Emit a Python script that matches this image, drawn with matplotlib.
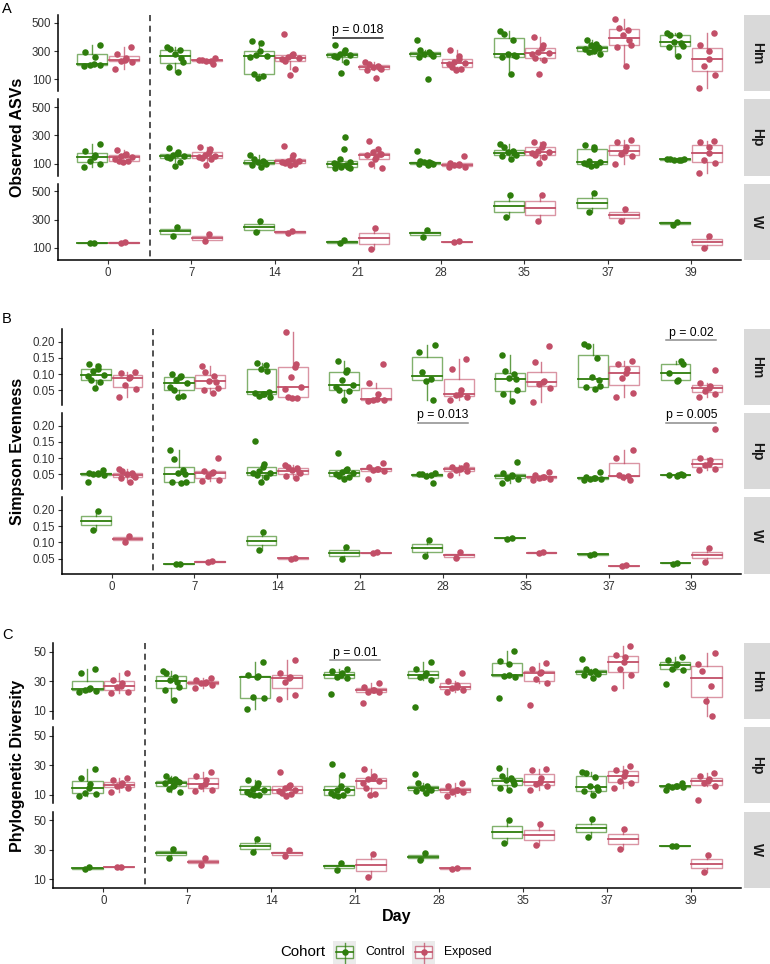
import numpy as np
import matplotlib.pyplot as plt
from matplotlib.patches import Rectangle

plt.rcParams['font.family'] = ['Liberation Sans', 'DejaVu Sans']

# x categories and facets
days = ['0', '7', '14', '21', '28', '35', '37', '39']
sites = ['Hm', 'Hp', 'W']

# A - Observed ASVs
asv_hm_ctrl = [[195, 200, 205, 210, 260, 294, 341],
               [152, 188, 223, 254, 282, 306, 318, 330],
               [110, 122, 140, 258, 265, 272, 300, 360, 375],
               [145, 223, 255, 265, 275, 282, 290, 311, 346],
               [100, 259, 265, 278, 282, 294, 306, 377],
               [140, 259, 262, 270, 282, 380, 424, 441],
               [282, 294, 300, 306, 318, 322, 330, 341, 353, 377],
               [263, 330, 335, 358, 365, 412, 417, 431]]
asv_hm_exp = [[176, 223, 230, 240, 254, 282, 330],
              [207, 228, 232, 235, 240, 254],
              [128, 176, 228, 245, 250, 260, 270, 282, 420],
              [112, 164, 172, 182, 188, 196, 207, 223],
              [164, 176, 188, 211, 216, 223, 247, 263, 306],
              [135, 235, 248, 282, 289, 294, 320, 341, 401],
              [195, 330, 345, 380, 412, 450, 467, 531],
              [41, 128, 192, 247, 301, 341, 431]]
asv_hp_ctrl = [[74, 100, 121, 145, 157, 192, 240],
               [79, 109, 140, 148, 152, 160, 164, 180, 209],
               [74, 88, 98, 105, 109, 118, 133, 157],
               [65, 70, 72, 78, 90, 98, 102, 109, 133, 204, 287],
               [86, 95, 100, 105, 109, 112, 121, 192],
               [133, 150, 162, 172, 180, 192, 216, 240],
               [80, 86, 95, 105, 112, 121, 200, 216, 228],
               [122, 125, 128, 130, 132, 135]]
asv_hp_exp = [[109, 115, 120, 135, 145, 150, 157, 169, 197],
              [86, 135, 140, 145, 150, 157, 180, 204, 216],
              [86, 95, 102, 110, 117, 121, 133, 157, 223],
              [69, 93, 130, 145, 157, 165, 169, 180, 204, 263],
              [72, 78, 86, 90, 100, 102, 150],
              [105, 145, 160, 173, 180, 192, 216, 240, 256],
              [98, 155, 165, 188, 216, 250, 268],
              [34, 102, 125, 173, 215, 252, 259]]
asv_w_ctrl = [[132, 137], [183, 249], [209, 292], [131, 154],
              [180, 225], [315, 474], [351, 488], [265, 285]]
asv_w_exp = [[135, 140], [145, 197], [204, 221], [91, 244],
             [140, 145], [287, 476], [292, 375], [102, 185]]

# B - Simpson evenness
even_hm_ctrl = [[0.058, 0.075, 0.081, 0.093, 0.096, 0.110, 0.117, 0.124, 0.130],
                [0.029, 0.033, 0.052, 0.060, 0.073, 0.081, 0.091, 0.095, 0.099],
                [0.029, 0.033, 0.038, 0.040, 0.043, 0.045, 0.110, 0.117, 0.127, 0.134],
                [0.019, 0.048, 0.052, 0.060, 0.068, 0.081, 0.106, 0.114, 0.140],
                [0.019, 0.080, 0.085, 0.106, 0.168, 0.191],
                [0.017, 0.038, 0.050, 0.084, 0.089, 0.100, 0.110, 0.160],
                [0.055, 0.060, 0.062, 0.081, 0.091, 0.150, 0.186, 0.192],
                [0.078, 0.081, 0.105, 0.132, 0.140]]
even_hm_exp = [[0.029, 0.055, 0.065, 0.088, 0.091, 0.103, 0.106],
               [0.042, 0.050, 0.058, 0.075, 0.080, 0.093, 0.106, 0.124],
               [0.025, 0.027, 0.029, 0.055, 0.060, 0.091, 0.122, 0.132, 0.230],
               [0.016, 0.019, 0.020, 0.024, 0.040, 0.073, 0.130],
               [0.019, 0.029, 0.035, 0.040, 0.050, 0.117, 0.148],
               [0.014, 0.057, 0.071, 0.076, 0.078, 0.137, 0.186],
               [0.029, 0.042, 0.089, 0.104, 0.117, 0.132, 0.139],
               [0.029, 0.040, 0.048, 0.058, 0.062, 0.073, 0.112]]
even_hp_ctrl = [[0.027, 0.047, 0.050, 0.051, 0.053, 0.055, 0.063],
                [0.022, 0.025, 0.027, 0.050, 0.055, 0.063, 0.097, 0.125],
                [0.027, 0.043, 0.048, 0.053, 0.055, 0.060, 0.074, 0.081, 0.153],
                [0.036, 0.043, 0.045, 0.051, 0.053, 0.058, 0.062, 0.068, 0.117],
                [0.024, 0.045, 0.048, 0.050, 0.051, 0.053],
                [0.022, 0.036, 0.040, 0.045, 0.048, 0.055, 0.089],
                [0.033, 0.035, 0.037, 0.038, 0.040, 0.043, 0.058],
                [0.045, 0.047, 0.048, 0.049, 0.050]]
even_hp_exp = [[0.027, 0.040, 0.043, 0.048, 0.050, 0.053, 0.061, 0.068],
               [0.030, 0.033, 0.045, 0.055, 0.058, 0.061, 0.099],
               [0.038, 0.045, 0.053, 0.058, 0.063, 0.070, 0.074, 0.079],
               [0.036, 0.060, 0.063, 0.065, 0.068, 0.072, 0.086],
               [0.048, 0.060, 0.063, 0.066, 0.070, 0.074, 0.079],
               [0.033, 0.036, 0.040, 0.041, 0.043, 0.048, 0.058],
               [0.033, 0.043, 0.045, 0.048, 0.099, 0.125],
               [0.063, 0.068, 0.078, 0.082, 0.095, 0.099, 0.190]]
even_w_ctrl = [[0.138, 0.197], [0.033, 0.035], [0.077, 0.133], [0.048, 0.085],
               [0.058, 0.107], [0.112, 0.114], [0.062, 0.064], [0.035, 0.036]]
even_w_exp = [[0.102, 0.121], [0.040, 0.042], [0.050, 0.052], [0.067, 0.069],
              [0.051, 0.070], [0.066, 0.071], [0.027, 0.029], [0.041, 0.082]]

# C - Phylogenetic diversity
pd_hm_ctrl = [[22.8, 23.5, 23.9, 24.5, 25.1, 35.2, 38.5],
              [17.2, 23.9, 26.2, 29.5, 30.5, 32.9, 35.6, 37.0],
              [10.9, 18.3, 19.0, 33.0, 33.4, 34.0, 43.0],
              [21.2, 31.8, 32.5, 34.0, 35.2, 37.0, 38.5],
              [12.7, 31.1, 32.9, 34.0, 35.2, 37.9, 43.0],
              [18.8, 33.0, 33.4, 34.0, 41.5, 43.7, 50.2],
              [31.8, 34.0, 35.0, 35.6, 36.3, 37.0, 37.9, 45.3],
              [27.8, 37.4, 38.5, 40.8, 41.9, 44.6, 46.0]]
pd_hm_exp = [[22.1, 22.5, 26.2, 27.0, 29.0, 30.7, 35.6],
             [25.1, 27.3, 28.5, 29.0, 29.5, 30.5, 31.8],
             [17.9, 20.6, 29.5, 32.2, 32.9, 35.2, 44.2],
             [14.9, 22.5, 22.8, 23.7, 24.2, 26.2, 28.9],
             [22.8, 23.8, 25.1, 26.2, 27.3, 30.0, 35.2],
             [13.8, 28.9, 31.5, 35.6, 36.3, 38.1, 42.4],
             [25.5, 34.0, 38.0, 43.0, 46.5, 48.0, 53.6],
             [6.4, 16.5, 26.6, 37.0, 41.5, 48.7]]
pd_hp_ctrl = [[9.3, 10.5, 11.5, 14.5, 17.4, 21.2, 27.3],
              [11.6, 14.0, 15.6, 16.5, 17.9, 18.5, 19.0, 19.7, 20.6, 22.4],
              [9.5, 10.0, 10.8, 12.0, 13.4, 14.0, 15.6, 17.9, 20.1],
              [8.9, 9.5, 10.0, 11.5, 12.9, 13.5, 15.6, 23.5, 30.9],
              [11.1, 12.2, 13.5, 14.2, 14.5, 15.6, 17.9, 23.9],
              [13.4, 14.5, 17.5, 19.0, 20.0, 21.2, 22.4, 28.0],
              [9.6, 12.2, 13.0, 14.9, 15.6, 22.0, 24.6, 25.7],
              [13.4, 15.3, 15.5, 15.6, 15.8, 16.0, 17.9]]
pd_hp_exp = [[11.6, 14.5, 15.6, 16.7, 17.9, 19.7, 21.2],
             [12.2, 12.9, 15.6, 17.2, 20.1, 22.4, 25.7],
             [8.9, 10.5, 11.1, 12.5, 13.4, 14.5, 16.0, 16.7, 25.7],
             [10.0, 10.5, 14.5, 17.9, 19.0, 20.5, 21.2, 23.0, 27.5],
             [9.3, 11.6, 12.0, 12.9, 13.5, 15.6, 17.9],
             [13.4, 15.6, 17.0, 18.3, 21.2, 26.9, 27.3],
             [14.5, 17.9, 19.0, 22.4, 25.7, 26.5, 29.1],
             [6.6, 15.6, 17.9, 19.0, 20.6, 22.4, 24.6]]
pd_w_ctrl = [[16.8, 18.2], [24.8, 30.9], [28.6, 37.0], [16.3, 21.2],
             [23.0, 28.0], [34.3, 50.4], [38.8, 50.7], [32.5, 32.9]]
pd_w_exp = [[18.2, 18.7], [19.7, 24.2], [25.7, 29.8], [11.8, 27.5],
            [16.8, 18.0], [33.1, 47.3], [30.9, 44.4], [14.7, 26.4]]

# significance brackets: panel, facet, day index, label, height
p_panel = ['A', 'B', 'B', 'B', 'C']
p_site = ['Hm', 'Hm', 'Hp', 'Hp', 'Hm']
p_day = [3, 7, 4, 7, 3]
p_text = ['p = 0.018', 'p = 0.02', 'p = 0.013', 'p = 0.005', 'p = 0.01']
p_y = [394, 0.204, 0.208, 0.208, 44.1]

green = '#2e7d0c'
pink = '#c24f68'

W, H = 770, 964
fig = plt.figure(figsize=(7.7, 9.64), dpi=100)
over = fig.add_axes([0, 0, 1, 1])
over.set_xlim(0, W)
over.set_ylim(H, 0)
over.axis('off')

def rect(l, t, w, h):
    return [l / W, 1 - (t + h) / H, w / W, h / H]

jit = [-0.08, 0.05, -0.03, 0.09, -0.06, 0.02, 0.07, -0.1, 0.03, -0.01, 0.1]

def draw_group(ax, x, vals, col, w=0.36):
    v = np.array(vals, dtype=float)
    q1, med, q3 = np.percentile(v, [25, 50, 75])
    iqr = q3 - q1
    lo = v[v >= q1 - 1.5 * iqr].min()
    hi = v[v <= q3 + 1.5 * iqr].max()
    ax.add_patch(Rectangle((x - w / 2, q1), w, q3 - q1, fill=False,
                           ec=col, alpha=0.6, lw=1.0, zorder=2))
    ax.plot([x - w / 2, x + w / 2], [med, med], color=col, lw=1.3, zorder=2)
    ax.plot([x, x], [q3, hi], color=col, lw=1.0, alpha=0.75, zorder=2)
    ax.plot([x, x], [lo, q1], color=col, lw=1.0, alpha=0.75, zorder=2)
    k = len(v)
    xs = [x + jit[(i * 3 + k) % len(jit)] for i in range(k)]
    ax.scatter(xs, v, s=22, color=col, lw=0, zorder=3)

panels = [
    ('A', 'Observed ASVs', [asv_hm_ctrl, asv_hp_ctrl, asv_w_ctrl],
     [asv_hm_exp, asv_hp_exp, asv_w_exp], (15, 556), [100, 300, 500],
     ['100', '300', '500'], 58, [15, 99.2, 183.5], 3, '#222222'),
    ('B', 'Simpson Evenness', [even_hm_ctrl, even_hp_ctrl, even_w_ctrl],
     [even_hm_exp, even_hp_exp, even_w_exp], (0.004, 0.239),
     [0.05, 0.10, 0.15, 0.20], ['0.05', '0.10', '0.15', '0.20'],
     62, [329, 413, 497.3], 313, '#8c8c8c'),
    ('C', 'Phylogenetic Diversity', [pd_hm_ctrl, pd_hp_ctrl, pd_w_ctrl],
     [pd_hm_exp, pd_hp_exp, pd_w_exp], (4.2, 55.8), [10, 30, 50],
     ['10', '30', '50'], 53, [643, 727, 811.7], 629, '#8c8c8c'),
]

right = 741
fh = 76.3
for name, ylab, ctrl, expo, ylim, yt, ytl, left, tops, ltop, pcol in panels:
    axes = {}
    for j, site in enumerate(sites):
        ax = fig.add_axes(rect(left, tops[j], right - left, fh))
        ax.set_facecolor('none')
        ax.set_xlim(0.4, 8.6)
        ax.set_ylim(*ylim)
        for s in ['top', 'right']:
            ax.spines[s].set_visible(False)
        ax.spines['left'].set_linewidth(1.1)
        ax.set_yticks(yt)
        ax.set_yticklabels(ytl)
        ax.tick_params(axis='y', length=3, width=0.8, color='#333333',
                       labelsize=8.3, labelcolor='#333333', pad=2)
        ax.set_xticks(np.arange(1, 9))
        if j == 2:
            ax.spines['bottom'].set_linewidth(1.1)
            ax.set_xticklabels(days)
            ax.tick_params(axis='x', length=3, width=0.8, color='#333333',
                           labelsize=8.3, labelcolor='#333333', pad=2)
        else:
            ax.spines['bottom'].set_visible(False)
            ax.tick_params(axis='x', bottom=False, labelbottom=False)
        for i in range(len(days)):
            draw_group(ax, i + 1 - 0.19, ctrl[j][i], green)
            draw_group(ax, i + 1 + 0.19, expo[j][i], pink)
        axes[site] = ax
        # strip
        over.add_patch(Rectangle((744, tops[j]), 26, fh, color='#d9d9d9', lw=0))
        over.text(757, tops[j] + fh / 2, site, rotation=-90, ha='center',
                  va='center', fontsize=10, fontweight='bold', color='#1a1a1a')
    # dashed separator between day 0 and day 7
    xd = left + 1.1 * (right - left) / 8.2
    over.plot([xd, xd], [tops[0], tops[2] + fh], color='#222222', lw=1.1,
              dashes=(4, 3))
    over.text(18, (tops[0] + tops[2] + fh) / 2, ylab, rotation=90,
              ha='center', va='center', fontsize=11.5, fontweight='bold')
    over.text(2, ltop + 6, name, ha='left', va='center', fontsize=10.5)
    for pp, ps, pd_, pt, py in zip(p_panel, p_site, p_day, p_text, p_y):
        if pp != name:
            continue
        ax = axes[ps]
        ax.plot([pd_ + 1 - 0.3, pd_ + 1 + 0.3], [py, py], color=pcol, lw=1.1,
                clip_on=False)
        ax.annotate(pt, (pd_ + 1, py), xytext=(0, 1.2), textcoords='offset points',
                    ha='center', va='bottom', fontsize=8.8, annotation_clip=False)

over.text(397, 916, 'Day', ha='center', va='center', fontsize=11.5,
          fontweight='bold')

# legend
over.text(280, 952, 'Cohort', ha='left', va='center', fontsize=10.8)
for kx, col, lab in [(333, green, 'Control'), (412, pink, 'Exposed')]:
    over.add_patch(Rectangle((kx, 941), 23, 23, color='#ebebeb', lw=0))
    over.plot([kx + 11.5, kx + 11.5], [942.5, 962.5], color=col, lw=1.0, alpha=0.75)
    over.add_patch(Rectangle((kx + 3, 946), 17, 12, fill=True, fc='white',
                             ec=col, alpha=0.7, lw=1.0))
    over.plot([kx + 3, kx + 20], [952, 952], color=col, lw=1.2)
    over.scatter([kx + 11.5], [952], s=22, color=col, lw=0, zorder=5)
    over.text(kx + 32, 952, lab, ha='left', va='center', fontsize=8.8)

fig.savefig('out.png', dpi=100)
